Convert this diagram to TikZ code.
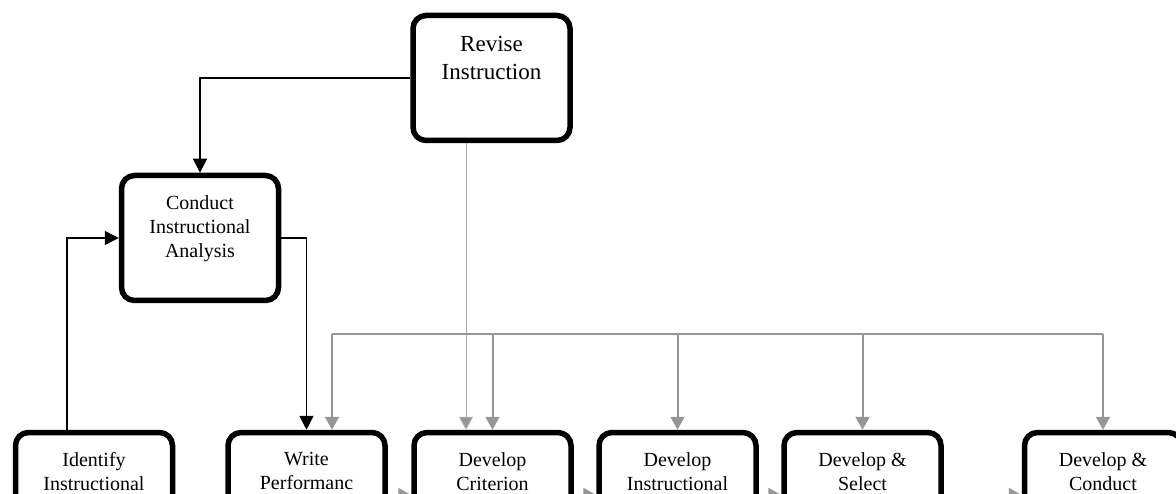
\documentclass[tikz,border=0pt]{standalone}
\usepackage{fontspec}
\setmainfont{Liberation Serif}
\usetikzlibrary{arrows.meta,positioning}
\definecolor{linkgray}{RGB}{150,150,150}
\definecolor{thingray}{RGB}{170,170,170}

\begin{document}
\begin{tikzpicture}[x=1pt, y=-1pt,
      stepbox/.style={draw, line width=5.5pt, rounded corners=13pt,
          minimum width=157pt, minimum height=125pt, inner sep=0pt},
      steptext/.style={align=center, inner sep=0pt,
          font=\fontsize{20}{24}\selectfont},
      link/.style={line width=1.6pt, -{Triangle[width=14pt,length=14pt]}},
      graylink/.style={draw=linkgray, line width=2pt,
          -{Triangle[width=14pt,length=13pt]}},
      thinlink/.style={draw=thingray, line width=1pt,
          -{Triangle[width=14pt,length=13pt,fill=linkgray]}}]

      \useasboundingbox (0,0) rectangle (1176,494);
      \clip (0,0) rectangle (1176,494);

      % top steps
      \node[stepbox] (revise) at (491.5,78) {};
      \node[steptext, font=\fontsize{23}{28}\selectfont, below=23pt of revise.north]
          (revisetext) {Revise\\Instruction};
      \node[stepbox] (conduct) at (200,238) {};
      \node[steptext, below=22.5pt of conduct.north]
          (conducttext) {Conduct\\Instructional\\Analysis};

      % bottom row
      \node[stepbox] (identify) at (94,495) {};
      \node[stepbox] (write) at (306.5,495) {};
      \node[stepbox] (criterion) at (492.5,495) {};
      \node[stepbox] (material) at (677.5,495) {};
      \node[stepbox] (select) at (862.5,495) {};
      \node[stepbox] (evaluate) at (1103,495) {};

      \node[steptext, below=22.5pt of identify.north] (identifytext) {Identify\\Instructional};
      \node[steptext, below=22.5pt of write.north] (writetext) {Write\\Performanc};
      \node[steptext, below=22.5pt of criterion.north] (criteriontext) {Develop\\Criterion};
      \node[steptext, below=22.5pt of material.north] (materialtext) {Develop\\Instructional};
      \node[steptext, below=22.5pt of select.north] (selecttext) {Develop \&\\Select};
      \node[steptext, below=22.5pt of evaluate.north] (evaluatetext) {Develop \&\\Conduct};

      % black links
      \draw[link] (revise.west) -| (conduct.north);
      \draw[link] ([xshift=-27pt]identify.north) |- (conduct.west);
      \draw[link] (conduct.east) -| (write.north);

      % revise feeds criterion
      \coordinate (revisefoot) at ([xshift=-25.5pt]revise.south);
      \draw[thinlink] (revisefoot) -- (revisefoot |- criterion.north);

      % gray bus
      \coordinate (busleft) at (332,334);
      \draw[linkgray, line width=2.5pt] (busleft) -- (busleft -| evaluate.north);
      \draw[graylink] (busleft) -- (busleft |- write.north);
      \foreach \n in {criterion, material, select, evaluate}
          \draw[graylink] (busleft -| \n.north) -- (\n.north);

      % flow along the row
      \draw[graylink] (write.east) -- (criterion.west);
      \draw[graylink] (criterion.east) -- (material.west);
      \draw[graylink] (material.east) -- (select.west);
      \draw[graylink] (select.east) -- (evaluate.west);
\end{tikzpicture}
\end{document}
